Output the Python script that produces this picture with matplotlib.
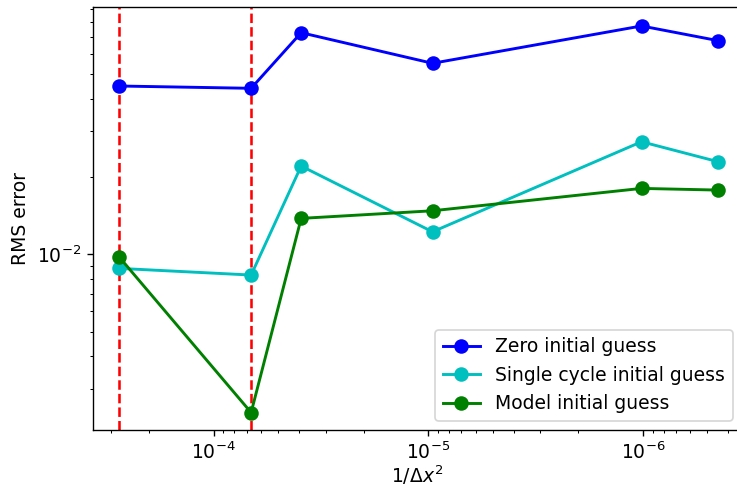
import numpy as np
import matplotlib
matplotlib.use("Agg")
import matplotlib.pyplot as plt

plt.rcParams['font.size'] = 11

# grid spacing values (plotted as 1/dx^2 on an inverted log axis)
x_vals = [2.76e-4, 6.69e-5, 3.91e-5, 9.55e-6, 1.014e-6, 4.45e-7]

zero_guess = [0.04505, 0.04413, 0.07262, 0.05521, 0.07713, 0.0676]
single_cycle_guess = [8.80e-3, 8.29e-3, 0.0220, 0.01221, 0.02735, 0.02286]
model_guess = [9.76e-3, 2.42e-3, 0.01377, 0.01474, 0.01801, 0.01774]

vlines = [2.76e-4, 6.69e-5]

dpi = 123
fig = plt.figure(figsize=(737 / dpi, 492 / dpi), dpi=dpi)
ax = fig.add_axes([93 / 737, (492 - 430) / 492, (742 - 93) / 737, (430 - 7) / 492])

# dashed markers go underneath the data
for xv in vlines:
    ax.axvline(xv, color='r', linestyle='--', zorder=1)

ax.plot(x_vals, zero_guess, 'o-', color='b', markersize=7.5, lw=1.7, label='Zero initial guess', zorder=2)
ax.plot(x_vals, single_cycle_guess, 'o-', color='c', markersize=7.5, lw=1.7, label='Single cycle initial guess', zorder=2)
ax.plot(x_vals, model_guess, 'o-', color='g', markersize=7.5, lw=1.7, label='Model initial guess', zorder=2)

ax.set_xscale('log')
ax.set_yscale('log')
ax.set_xlim(3.65e-4, 3.45e-7)
ax.set_ylim(2.07e-3, 0.0914)

ax.set_xlabel(r'$1/\Delta x^2$', labelpad=0)
ax.set_ylabel('RMS error')
ax.legend(loc='lower right')

fig.savefig('out.png', dpi=dpi)
